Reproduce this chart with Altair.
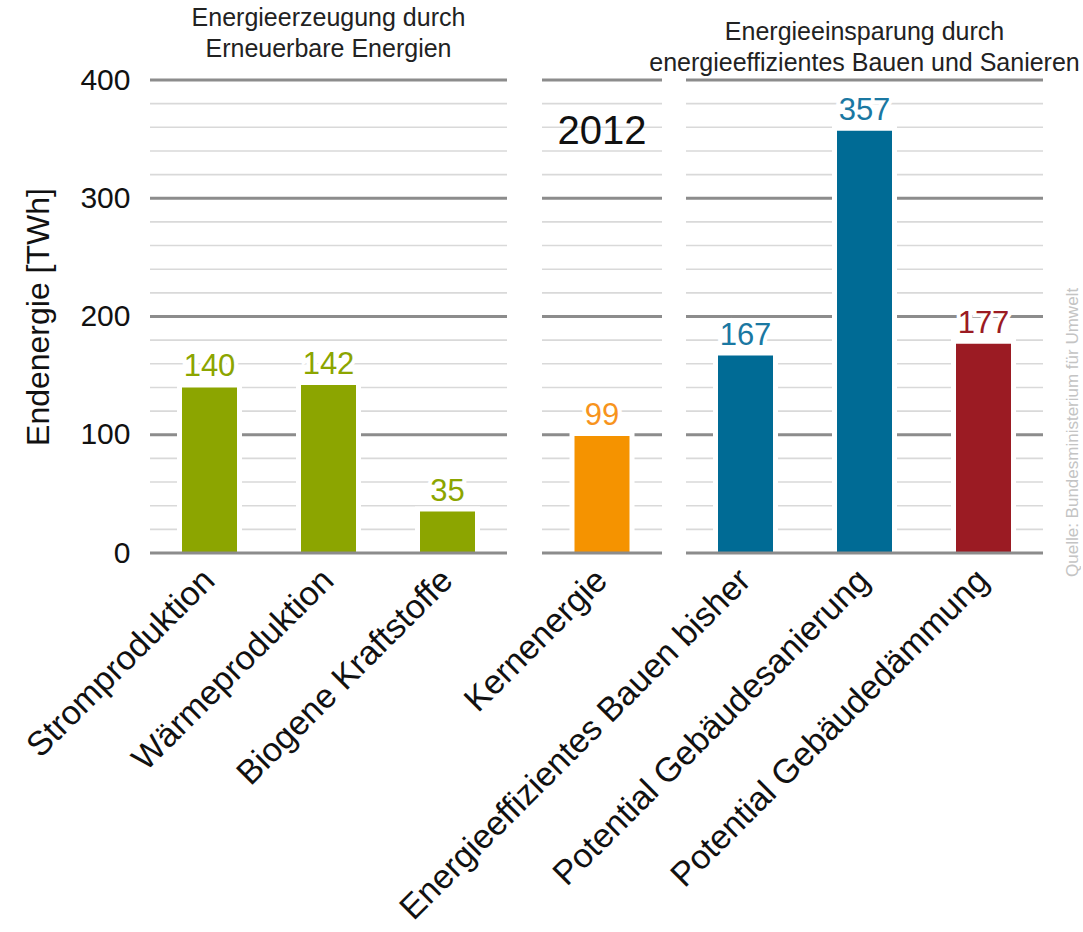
import altair as alt
import pandas as pd

# ---- data ----
categories = [
    "Stromproduktion",
    "Wärmeproduktion",
    "Biogene Kraftstoffe",
    "Kernenergie",
    "Energieeffizientes Bauen bisher",
    "Potential Gebäudesanierung",
    "Potential Gebäudedämmung",
]
values = [140, 142, 35, 99, 167, 357, 177]
panels = ["erzeugung", "erzeugung", "erzeugung", "kern", "einsparung", "einsparung", "einsparung"]
series = ["Erneuerbare", "Erneuerbare", "Erneuerbare", "Kernenergie", "Bauen", "Bauen", "Dämmung"]

major_ticks = [0, 100, 200, 300, 400]
minor_ticks = [20, 40, 60, 80, 120, 140, 160, 180, 220, 240, 260, 280, 320, 340, 360, 380]

series_domain = ["Erneuerbare", "Kernenergie", "Bauen", "Dämmung"]
bar_colors = ["#8ca500", "#f59300", "#006b95", "#9b1b23"]
label_colors = ["#8ca500", "#f7941d", "#1a78a2", "#9b1b23"]

title_erzeugung = ["Energieerzeugung durch", "Erneuerbare Energien"]
title_einsparung = ["Energieeinsparung durch", "energieeffizientes Bauen und Sanieren"]
year_label = ["2012"]
year_value = [356]
source_text = ["Quelle: Bundesministerium für Umwelt"]

FONT = "Liberation Sans"
H = 473
BAR = 55

df = pd.DataFrame({"category": categories, "value": values, "panel": panels, "series": series})
yscale = alt.Scale(domain=[0, 400], nice=False, zero=True)


def make_panel(key, width, yaxis, extra_layers=()):
    d = df[df.panel == key]
    cats = list(d.category)
    x = alt.X(
        "category:N",
        sort=cats,
        scale=alt.Scale(domain=cats, paddingInner=0, paddingOuter=0),
        axis=alt.Axis(
            labelAngle=315, labelAlign="right", labelBaseline="middle",
            labelFontSize=34, labelColor="#111", labelPadding=22, labelLimit=1000,
            labelFont=FONT, domain=False, ticks=False, title=None,
        ),
    )
    y = alt.Y("value:Q", scale=yscale, axis=yaxis)
    minor = alt.Chart(pd.DataFrame({"value": minor_ticks})).mark_rule(
        color="#d9d9d9", strokeWidth=1.6).encode(y=y)
    major = alt.Chart(pd.DataFrame({"value": major_ticks[1:]})).mark_rule(
        color="#8c8c8c", strokeWidth=3).encode(y=y)
    zero = alt.Chart(pd.DataFrame({"value": major_ticks[:1]})).mark_rule(
        color="#8c8c8c", strokeWidth=3).encode(y=y)
    base = alt.Chart(d)
    halo = base.mark_bar(size=BAR, color="white", stroke="white", strokeWidth=10).encode(x=x, y=y)
    bars = base.mark_bar(size=BAR).encode(
        x=x, y=y,
        color=alt.Color("series:N", scale=alt.Scale(domain=series_domain, range=bar_colors), legend=None),
    )
    text_halo = base.mark_text(
        fontSize=31, font=FONT, baseline="alphabetic", dy=-11,
        stroke="white", strokeWidth=8, color="white",
    ).encode(x=x, y=y, text=alt.Text("value:Q", format="d"))
    text = base.mark_text(fontSize=31, font=FONT, baseline="alphabetic", dy=-11).encode(
        x=x, y=y, text=alt.Text("value:Q", format="d"),
        color=alt.Color("series:N", scale=alt.Scale(domain=series_domain, range=label_colors), legend=None),
    )
    layers = [minor, major, halo, bars, text_halo, text]
    for mk in extra_layers:
        layers.append(mk(x, y))
    layers.append(zero)
    return alt.layer(*layers).resolve_scale(color="independent").properties(width=width, height=H)


yaxis_main = alt.Axis(
    values=major_ticks, labelFontSize=30, labelColor="#111", labelPadding=20, labelFont=FONT,
    domain=False, ticks=False, grid=False,
    title="Endenergie [TWh]", titleFontSize=32, titleFontWeight="normal", titleColor="#111",
    titleFont=FONT, titlePadding=24,
)


def year_layer(x, y):
    return alt.Chart(pd.DataFrame({"category": ["Kernenergie"], "value": year_value, "label": year_label})).mark_text(
        fontSize=40, font=FONT, color="#111", baseline="middle"
    ).encode(x=x, y=y, text="label:N")


def source_layer(x, y):
    return alt.Chart(pd.DataFrame({"label": source_text})).mark_text(
        fontSize=17, font=FONT, color="#c4c4c4", angle=270, align="left", baseline="top"
    ).encode(x=alt.value(379), y=alt.value(H + 24), text="label:N")


def header(lines):
    return alt.Title(lines, fontSize=25, fontWeight="normal", color="#222", font=FONT,
                     frame="group", anchor="middle", lineHeight=31, offset=3)


p1 = make_panel("erzeugung", 357, yaxis_main).properties(title=header(title_erzeugung))
p2 = make_panel("kern", 120, None, extra_layers=[year_layer])
p3 = make_panel("einsparung", 357, None, extra_layers=[source_layer]).properties(title=header(title_einsparung))

inner = alt.hconcat(p2, p3, spacing=24, bounds="flush")
chart = alt.hconcat(p1, inner, spacing=35, bounds="flush").properties(
    padding={"left": 20, "top": 6, "right": 0, "bottom": 0}
).configure(font=FONT).configure_view(stroke=None)

chart.save("out.html", embed_options={"renderer": "svg", "actions": False})
